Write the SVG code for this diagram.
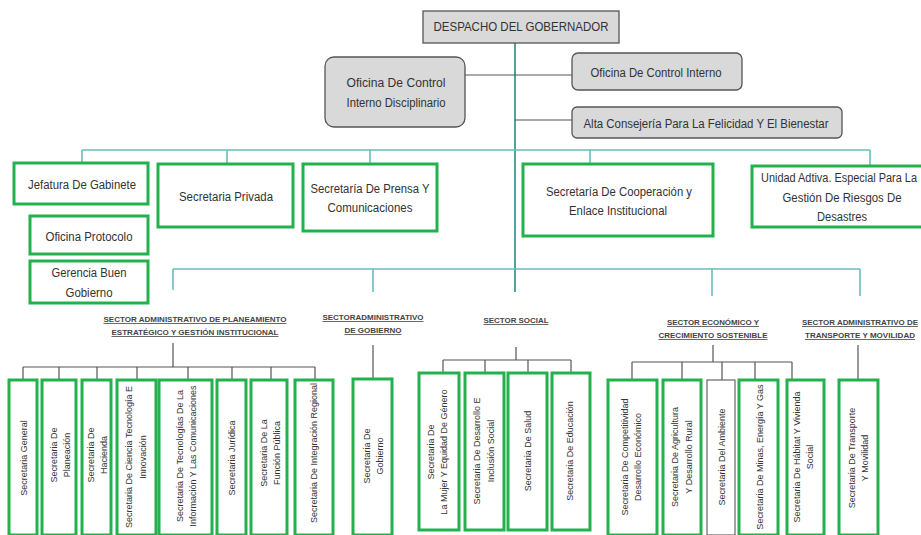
<svg xmlns="http://www.w3.org/2000/svg" width="921" height="535" viewBox="0 0 921 535">
<style>
.bg{fill:#ffffff}
.gbox{fill:#d9d9d9;stroke:#555;stroke-width:1.3}
.grn{fill:#ffffff;stroke:#22b14c;stroke-width:3}
.thin{fill:#ffffff;stroke:#666;stroke-width:1.2}
.t{font-family:"Liberation Sans",Arial,sans-serif;font-size:12px;fill:#333;text-anchor:middle;dominant-baseline:central}
.v{font-family:"Liberation Sans",Arial,sans-serif;font-size:9px;fill:#333;text-anchor:middle;dominant-baseline:central}
.h{font-family:"Liberation Sans",Arial,sans-serif;font-size:8px;font-weight:bold;fill:#444;text-anchor:middle;text-decoration:underline}
.trunk{stroke:#2a8a8a;stroke-width:1.6;fill:none}
.bar{stroke:#6bbcbc;stroke-width:1.6;fill:none}
.gl{stroke:#555;stroke-width:1.2;fill:none}
</style>
<rect class="bg" x="0" y="0" width="921" height="535"/>
<g id="connectors">
<path class="trunk" d="M515 43V292"/>
<path class="gl" d="M465 75H572M515 120H572"/>
<path class="bar" d="M82 150H870M82 150V163M227 150V164M370 150V164M590 150V164M870 150V166"/>
<path class="bar" d="M173 269H860M173 269V290M373 269V292M712 269V296M860 269V296"/>
<path class="gl" d="M173 343V367M23 367H315M23 367V380M59 367V380M97 367V380M137 367V380M188 367V380M232 367V380M271 367V380M315 367V380"/>
<path class="gl" d="M373 345V379"/>
<path class="gl" d="M516 347V360M443 360H571M443 360V373M485 360V373M528 360V373M571 360V373"/>
<path class="gl" d="M713 345V362M632 362H792M632 362V380M682 362V380M722 362V380M755 362V380M792 362V380"/>
<path class="gl" d="M858 345V380"/>
</g>
<g id="n-despacho"><rect class="gbox" x="423" y="11" width="196" height="32"/><text class="t" x="521" y="27" textLength="175" lengthAdjust="spacingAndGlyphs">DESPACHO DEL GOBERNADOR</text></g>
<g id="n-oci-disc"><rect class="gbox" x="325" y="57" width="140" height="70" rx="9"/><text class="t" x="396" y="83" textLength="99" lengthAdjust="spacingAndGlyphs">Oficina   De Control</text><text class="t" x="396" y="103" textLength="99" lengthAdjust="spacingAndGlyphs">Interno Disciplinario</text></g>
<g id="n-oci"><rect class="gbox" x="572" y="53" width="170" height="37" rx="6"/><text class="t" x="656" y="73" textLength="131" lengthAdjust="spacingAndGlyphs">Oficina De Control Interno</text></g>
<g id="n-alta"><rect class="gbox" x="572" y="107" width="270" height="31" rx="5"/><text class="t" x="706" y="124" textLength="245" lengthAdjust="spacingAndGlyphs">Alta Consejería Para La Felicidad Y El Bienestar</text></g>
<g id="n-jefatura"><rect class="grn" x="14" y="163" width="134" height="41"/><text class="t" x="82" y="185" textLength="108" lengthAdjust="spacingAndGlyphs">Jefatura De Gabinete</text></g>
<g id="n-protocolo"><rect class="grn" x="30" y="216" width="118" height="38"/><text class="t" x="89" y="237" textLength="87" lengthAdjust="spacingAndGlyphs">Oficina Protocolo</text></g>
<g id="n-gerencia"><rect class="grn" x="30" y="261" width="118" height="42"/><text class="t" x="89" y="273" textLength="75" lengthAdjust="spacingAndGlyphs">Gerencia Buen</text><text class="t" x="89" y="293" textLength="47" lengthAdjust="spacingAndGlyphs">Gobierno</text></g>
<g id="n-privada"><rect class="grn" x="158" y="164" width="135" height="63"/><text class="t" x="226" y="197" textLength="94" lengthAdjust="spacingAndGlyphs">Secretaria Privada</text></g>
<g id="n-prensa"><rect class="grn" x="303" y="164" width="134" height="67"/><text class="t" x="370" y="189" textLength="119" lengthAdjust="spacingAndGlyphs">Secretaría De Prensa Y</text><text class="t" x="370" y="208" textLength="85" lengthAdjust="spacingAndGlyphs">Comunicaciones</text></g>
<g id="n-cooperacion"><rect class="grn" x="523" y="164" width="190" height="72"/><text class="t" x="619" y="192" textLength="146" lengthAdjust="spacingAndGlyphs">Secretaría De Cooperación y</text><text class="t" x="618" y="211" textLength="98" lengthAdjust="spacingAndGlyphs">Enlace Institucional</text></g>
<g id="n-unidad"><rect class="grn" x="752" y="166" width="185" height="61"/><text class="t" x="839" y="178" textLength="156" lengthAdjust="spacingAndGlyphs">Unidad Adtiva. Especial Para La</text><text class="t" x="842" y="198" textLength="119" lengthAdjust="spacingAndGlyphs">Gestión De Riesgos De</text><text class="t" x="842" y="217" textLength="50" lengthAdjust="spacingAndGlyphs">Desastres</text></g>
<g id="h-planeamiento"><text class="h" x="195" y="322" textLength="183" lengthAdjust="spacingAndGlyphs">SECTOR ADMINISTRATIVO DE PLANEAMIENTO</text><text class="h" x="195" y="335" textLength="167" lengthAdjust="spacingAndGlyphs">ESTRATÉGICO Y GESTIÓN INSTITUCIONAL</text></g>
<g id="h-gobierno"><text class="h" x="373" y="320" textLength="101" lengthAdjust="spacingAndGlyphs">SECTORADMINISTRATIVO</text><text class="h" x="373" y="333" textLength="57" lengthAdjust="spacingAndGlyphs">DE GOBIERNO</text></g>
<g id="h-social"><text class="h" x="516" y="323" textLength="65" lengthAdjust="spacingAndGlyphs">SECTOR SOCIAL</text></g>
<g id="h-economico"><text class="h" x="713" y="325" textLength="92" lengthAdjust="spacingAndGlyphs">SECTOR ECONÓMICO Y</text><text class="h" x="713" y="338" textLength="109" lengthAdjust="spacingAndGlyphs">CRECIMIENTO SOSTENIBLE</text></g>
<g id="h-transporte"><text class="h" x="860" y="325" textLength="116" lengthAdjust="spacingAndGlyphs">SECTOR ADMINISTRATIVO DE</text><text class="h" x="860" y="338" textLength="110" lengthAdjust="spacingAndGlyphs">TRANSPORTE Y MOVILIDAD</text></g>
<g id="s-general"><rect class="grn" x="9" y="380" width="28" height="155"/><text class="v" transform="translate(24,458) rotate(-90)">Secretaria General</text></g>
<g id="s-planeacion"><rect class="grn" x="42" y="380" width="34" height="155"/><g transform="translate(60,455) rotate(-90)"><text class="v" x="0" y="-6">Secretaria De</text><text class="v" x="0" y="7">Planeación</text></g></g>
<g id="s-hacienda"><rect class="grn" x="82" y="380" width="29" height="155"/><g transform="translate(97,455) rotate(-90)"><text class="v" x="0" y="-6">Secretaria De</text><text class="v" x="0" y="7">Hacienda</text></g></g>
<g id="s-ciencia"><rect class="grn" x="117" y="380" width="39" height="155"/><g transform="translate(136,457) rotate(-90)"><text class="v" x="0" y="-7">Secretaria De Ciencia Tecnología E</text><text class="v" x="0" y="7">Innovación</text></g></g>
<g id="s-tic"><rect class="grn" x="159" y="380" width="53" height="155"/><g transform="translate(186,456) rotate(-90)"><text class="v" x="0" y="-6">Secretaria De Tecnologías De La</text><text class="v" x="0" y="7">Información Y Las Comunicaciones</text></g></g>
<g id="s-juridica"><rect class="grn" x="217" y="380" width="29" height="155"/><text class="v" transform="translate(232,458) rotate(-90)">Secretaria Jurídica</text></g>
<g id="s-funcion"><rect class="grn" x="251" y="380" width="36" height="155"/><g transform="translate(270,453) rotate(-90)"><text class="v" x="0" y="-6">Secretaria De La</text><text class="v" x="0" y="7">Función Pública</text></g></g>
<g id="s-integracion"><rect class="grn" x="295" y="380" width="38" height="155"/><text class="v" transform="translate(314,453) rotate(-90)">Secretaria De Integración Regional</text></g>
<g id="s-gobierno"><rect class="grn" x="353" y="379" width="39" height="156"/><g transform="translate(373,456) rotate(-90)"><text class="v" x="0" y="-6">Secretaria De</text><text class="v" x="0" y="7">Gobierno</text></g></g>
<g id="s-mujer"><rect class="grn" x="419" y="373" width="40" height="157"/><g transform="translate(437,452) rotate(-90)"><text class="v" x="0" y="-6">Secretaria De</text><text class="v" x="0" y="7">La Mujer Y Equidad De Género</text></g></g>
<g id="s-desarrollo"><rect class="grn" x="465" y="373" width="39" height="157"/><g transform="translate(484,451) rotate(-90)"><text class="v" x="0" y="-7">Secretaria De Desarrollo E</text><text class="v" x="0" y="7">Inclusión Social</text></g></g>
<g id="s-salud"><rect class="grn" x="508" y="373" width="39" height="157"/><text class="v" transform="translate(528,451) rotate(-90)">Secretaria De Salud</text></g>
<g id="s-educacion"><rect class="grn" x="552" y="373" width="38" height="157"/><text class="v" transform="translate(570,451) rotate(-90)">Secretaria De Educación</text></g>
<g id="s-competitividad"><rect class="grn" x="608" y="380" width="49" height="155"/><g transform="translate(632,457) rotate(-90)"><text class="v" x="0" y="-7">Secretaria De Competitividad</text><text class="v" x="0" y="6">Desarrollo Económico</text></g></g>
<g id="s-agricultura"><rect class="grn" x="663" y="380" width="38" height="155"/><g transform="translate(682,457) rotate(-90)"><text class="v" x="0" y="-7">Secretaria De Agricultura</text><text class="v" x="0" y="7">Y Desarrollo Rural</text></g></g>
<g id="s-ambiente"><rect class="thin" x="707" y="380" width="28" height="155"/><text class="v" transform="translate(722,457) rotate(-90)">Secretaria Del Ambiente</text></g>
<g id="s-minas"><rect class="grn" x="739" y="380" width="39" height="155"/><text class="v" transform="translate(760,457) rotate(-90)">Secretaria De Minas, Energía Y Gas</text></g>
<g id="s-habitat"><rect class="grn" x="787" y="380" width="37" height="155"/><g transform="translate(804,457) rotate(-90)"><text class="v" x="0" y="-7">Secretaria De Hábitat Y Vivienda</text><text class="v" x="0" y="6">Social</text></g></g>
<g id="s-transporte"><rect class="grn" x="839" y="380" width="39" height="155"/><g transform="translate(858,458) rotate(-90)"><text class="v" x="0" y="-6">Secretaria De Transporte</text><text class="v" x="0" y="7">Y Movilidad</text></g></g>
</svg>
